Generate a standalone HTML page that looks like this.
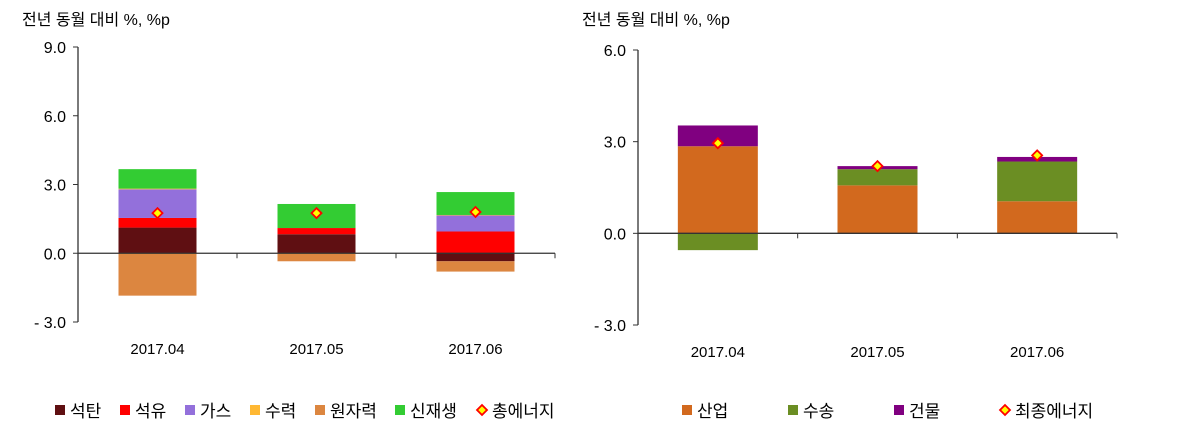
<!DOCTYPE html>
<html><head><meta charset="utf-8">
<style>
body{margin:0;background:#fff;width:1200px;height:439px;overflow:hidden;font-family:"Liberation Sans","Noto Sans CJK KR",sans-serif;}
svg text{font-family:"Liberation Sans","Noto Sans CJK KR",sans-serif;fill:#000;}
</style></head><body>
<svg id="c" width="1200" height="439"></svg>
<script>
const categories=["2017.04","2017.05","2017.06"];
const leftSeriesNames=["석탄","석유","가스","수력","원자력","신재생"];
const coal=[1.12,0.83,-0.35];
const oil=[0.42,0.27,0.95];
const gas=[1.25,0,0.7];
const hydro=[0.03,0,0.02];
const nuclear=[-1.85,-0.35,-0.45];
const renew=[0.85,1.05,1.0];
const totalEnergy=[1.75,1.75,1.8];
const leftTicks=[9,6,3,0,-3];
const rightSeriesNames=["산업","수송","건물"];
const industry=[2.85,1.57,1.05];
const transport=[-0.55,0.53,1.3];
const building=[0.68,0.1,0.15];
const finalEnergy=[2.95,2.2,2.55];
const rightTicks=[6,3,0,-3];

const NS="http://www.w3.org/2000/svg";
const svg=document.getElementById('c');
function el(t,a,p){const e=document.createElementNS(NS,t);for(const k in a)e.setAttribute(k,a[k]);(p||svg).appendChild(e);return e;}
function fmt(v){return v<0?"- "+Math.abs(v).toFixed(1):v.toFixed(1);}

function chart(cfg){
  const g=el('g',{});
  
  
  const y=v=>cfg.y0-(v-cfg.vmin)*(cfg.y0-cfg.y1)/(cfg.vmax-cfg.vmin);
  const n=categories.length, step=(cfg.xr-cfg.xl)/n;
  const x=i=>cfg.xl+step*(i+0.5);
  const t=el('text',{x:cfg.titleX,y:25,'font-size':16},g);t.textContent="전년 동월 대비 %, %p";
  
  // bars
  for(let i=0;i<n;i++){
    let pos=0,neg=0;
    cfg.series.forEach((s,si)=>{
      const v=s.data[i]; if(!v) return;
      let a,b; if(v>0){a=pos;b=pos+v;pos=b;}else{a=neg;b=neg+v;neg=b;}
      const r=el('rect',{x:x(i)-cfg.bw/2,y:Math.min(y(a),y(b)),width:cfg.bw,height:Math.abs(y(a)-y(b)),fill:s.color},g);
      
      
    });
  }
  // axes
  el('line',{x1:cfg.xl,y1:y(cfg.vmax),x2:cfg.xl,y2:y(cfg.vmin),stroke:'#333','stroke-width':1.3},g);
  el('line',{x1:cfg.xl,y1:y(0),x2:cfg.xr,y2:y(0),stroke:'#333','stroke-width':1.3},g);
  cfg.ticks.forEach(v=>{
    el('line',{x1:cfg.xl-5,y1:y(v),x2:cfg.xl,y2:y(v),stroke:'#333'},g);
    const tt=el('text',{x:cfg.xl-12,y:y(v)+6,'font-size':16,'text-anchor':'end'},g);tt.textContent=fmt(v);
    
  });
  for(let i=1;i<=n;i++) el('line',{x1:cfg.xl+step*i,y1:y(0),x2:cfg.xl+step*i,y2:y(0)+5,stroke:'#333'},g);
  categories.forEach((c,i)=>{
    const tt=el('text',{x:x(i),y:cfg.labelY,'font-size':15,'text-anchor':'middle'},g);tt.textContent=c;
    
  });
  // markers
  cfg.total.forEach((v,i)=>{
    const cx=x(i),cy=y(v);
    const p=el('polygon',{points:`${cx},${cy-5} ${cx+5},${cy} ${cx},${cy+5} ${cx-5},${cy}`,fill:'#ffff00',stroke:'#ff0000','stroke-width':1.8},g);
    
  });
  // legend
  let lx=cfg.legendX;
  cfg.legend.forEach(L=>{
    if(L.marker){
      el('polygon',{points:`${lx+6},${L.y||405} ${lx+11},${410} ${lx+6},${415} ${lx+1},${410}`,fill:'#ffff00',stroke:'#ff0000','stroke-width':1.8},g);
    } else el('rect',{x:lx+1,y:405,width:10,height:10,fill:L.color},g);
    const tt=el('text',{x:lx+16,y:417,'font-size':17},g);tt.textContent=L.name;
    
    lx+=L.w;
  });
}

chart({name:'left-chart',xl:78,xr:555,y0:322,y1:47,vmin:-3,vmax:9,bw:78,ticks:leftTicks,labelY:354,titleX:22,
  total:totalEnergy,
  series:[{key:'coal',data:coal,color:'#5f0f12'},{key:'oil',data:oil,color:'#ff0000'},{key:'gas',data:gas,color:'#9370db'},
    {key:'hydro',data:hydro,color:'#ffb833'},{key:'nuclear',data:nuclear,color:'#dc8640'},{key:'renew',data:renew,color:'#33cc33'}],
  legendX:54,
  legend:[{name:leftSeriesNames[0],color:'#5f0f12',w:65},{name:leftSeriesNames[1],color:'#ff0000',w:65},{name:leftSeriesNames[2],color:'#9370db',w:65},
    {name:leftSeriesNames[3],color:'#ffb833',w:65},{name:leftSeriesNames[4],color:'#dc8640',w:80},{name:leftSeriesNames[5],color:'#33cc33',w:82},{name:'총에너지',marker:true,w:100}]
});
chart({name:'right-chart',xl:638,xr:1117,y0:325,y1:50,vmin:-3,vmax:6,bw:80,ticks:rightTicks,labelY:357,titleX:582,
  total:finalEnergy,
  series:[{key:'industry',data:industry,color:'#d2691e'},{key:'transport',data:transport,color:'#6b8e23'},{key:'building',data:building,color:'#800080'}],
  legendX:681,
  legend:[{name:rightSeriesNames[0],color:'#d2691e',w:106},{name:rightSeriesNames[1],color:'#6b8e23',w:106},{name:rightSeriesNames[2],color:'#800080',w:106},{name:'최종에너지',marker:true,w:120}]
});
</script>
</body></html>
